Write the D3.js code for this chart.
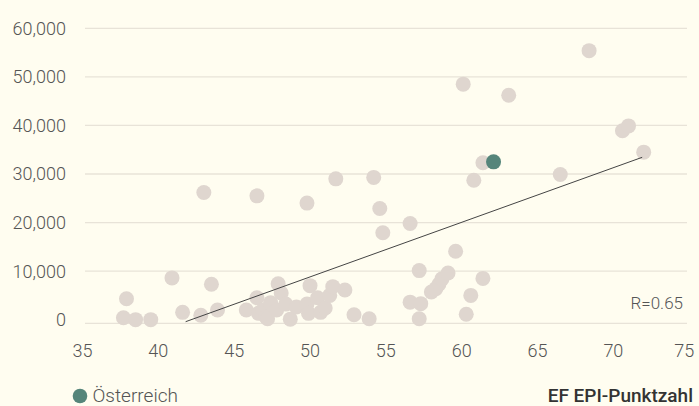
<!DOCTYPE html>
<html>
<head>
<meta charset="utf-8">
<script src="https://cdn.jsdelivr.net/npm/d3@7"></script>
<style>
  html, body { margin: 0; padding: 0; background: #fffdf0; }
  svg { display: block; font-family: Roboto, sans-serif; }
</style>
</head>
<body>
<svg id="chart" width="699" height="406"></svg>
<script>
// EF EPI score (x) and value (y) per country
const epiScores = [
  37.7, 38.5, 39.5, 37.9, 40.9, 41.6, 42.8, 43.5, 43.9, 43.0,
  45.8, 46.5, 46.6, 46.5, 46.9, 47.1, 47.2, 47.4, 47.8, 47.9,
  48.1, 48.4, 48.7, 49.1, 49.8, 49.8, 49.9, 50.0, 50.5, 50.7,
  51.0, 51.3, 51.5, 51.7, 52.3, 52.9, 53.9, 54.2, 54.6, 54.8,
  56.6, 56.6, 57.2, 57.3, 57.2, 58.0, 58.3, 58.5, 58.7, 59.1,
  59.6, 60.1, 60.3, 60.6, 60.8, 61.4, 61.4, 63.1, 66.5, 68.4,
  70.6, 71.0, 72.0
];
const values = [
  400, 0, 0, 4300, 8600, 1500, 900, 7300, 2000, 26200,
  2000, 4500, 1300, 25500, 2000, 600, 200, 3500, 2000, 7400,
  5500, 3200, 100, 2600, 3200, 24000, 1300, 7000, 4500, 1500,
  2400, 5000, 6800, 29000, 6100, 1000, 200, 29300, 22900, 17900,
  19800, 3600, 10100, 3300, 200, 5700, 6400, 7300, 8400, 9600,
  14100, 48500, 1100, 5000, 28700, 8500, 32300, 46200, 29900, 55400,
  38900, 39900, 34500
];
const highlightName = "Österreich";
const highlightPoint = [62.1, 32500];

const trendX = [41.8, 71.9];
const trendY = [-420, 33430];

const xTicks = [35, 40, 45, 50, 55, 60, 65, 70, 75];
const yTicks = [0, 10000, 20000, 30000, 40000, 50000, 60000];
const rLabel = "R=0.65";
const xTitle = "EF EPI-Punktzahl";

const svg = d3.select("#chart");
const plot = { left: 85, right: 687, top: 28.3, bottom: 323.3 };

const x = d3.scaleLinear().domain([35, 75]).range([82.5, 689.2]);
const y = d3.scaleLinear().domain([-750, 60000]).range([plot.bottom, plot.top]);

const textColor = "#555";
const fmt = d3.format(",");

// grid lines
svg.append("g")
  .selectAll("line")
  .data(yTicks.filter((d) => d > 0))
  .enter()
  .append("line")
  .attr("x1", plot.left)
  .attr("x2", plot.right)
  .attr("y1", (d) => y(d))
  .attr("y2", (d) => y(d))
  .attr("stroke", "#e8e3d8")
  .attr("stroke-width", 1.3);

// baseline
svg.append("line")
  .attr("x1", plot.left)
  .attr("x2", plot.right)
  .attr("y1", plot.bottom)
  .attr("y2", plot.bottom)
  .attr("stroke", "#e8e3d8")
  .attr("stroke-width", 1.3);

// y labels
svg.append("g")
  .selectAll("text")
  .data(yTicks)
  .enter()
  .append("text")
  .attr("x", 66)
  .attr("y", (d) => y(d))
  .attr("dy", "0.36em")
  .attr("text-anchor", "end")
  .attr("font-size", "18px")
  .attr("font-weight", 300)
  .attr("fill", textColor)
  .text((d) => fmt(d));

// x labels
svg.append("g")
  .selectAll("text")
  .data(xTicks)
  .enter()
  .append("text")
  .attr("x", (d, i) => (i === xTicks.length - 1 ? x(d) - 5 : x(d)))
  .attr("y", 356.5)
  .attr("text-anchor", "middle")
  .attr("font-size", "18px")
  .attr("font-weight", 300)
  .attr("fill", textColor)
  .text((d) => d);

// dots
const points = epiScores.map((e, i) => ({ x: e, y: values[i] }));
svg.append("g")
  .selectAll("circle")
  .data(points)
  .enter()
  .append("circle")
  .attr("cx", (d) => x(d.x))
  .attr("cy", (d) => y(d.y))
  .attr("r", 7.5)
  .attr("fill", "#dfd6cf");

// trend line
svg.append("line")
  .attr("x1", x(trendX[0]))
  .attr("y1", y(trendY[0]))
  .attr("x2", x(trendX[1]))
  .attr("y2", y(trendY[1]))
  .attr("stroke", "#444")
  .attr("stroke-width", 1);

// highlighted country
svg.append("circle")
  .attr("cx", x(highlightPoint[0]))
  .attr("cy", y(highlightPoint[1]))
  .attr("r", 7.5)
  .attr("fill", "#55857a");

svg.append("text")
  .attr("x", 683)
  .attr("y", 303)
  .attr("dy", "0.36em")
  .attr("text-anchor", "end")
  .attr("font-size", "17px")
  .attr("font-weight", 300)
  .attr("fill", textColor)
  .text(rLabel);

// legend
svg.append("circle")
  .attr("cx", 80)
  .attr("cy", 396)
  .attr("r", 7.3)
  .attr("fill", "#55857a");

svg.append("text")
  .attr("x", 92.5)
  .attr("y", 401.5)
  .attr("font-size", "19px")
  .attr("font-weight", 300)
  .attr("fill", textColor)
  .text(highlightName);

svg.append("text")
  .attr("x", 693)
  .attr("y", 401.5)
  .attr("text-anchor", "end")
  .attr("font-size", "19px")
  .attr("font-weight", 500)
  .attr("fill", "#333")
  .text(xTitle);
</script>
</body>
</html>
